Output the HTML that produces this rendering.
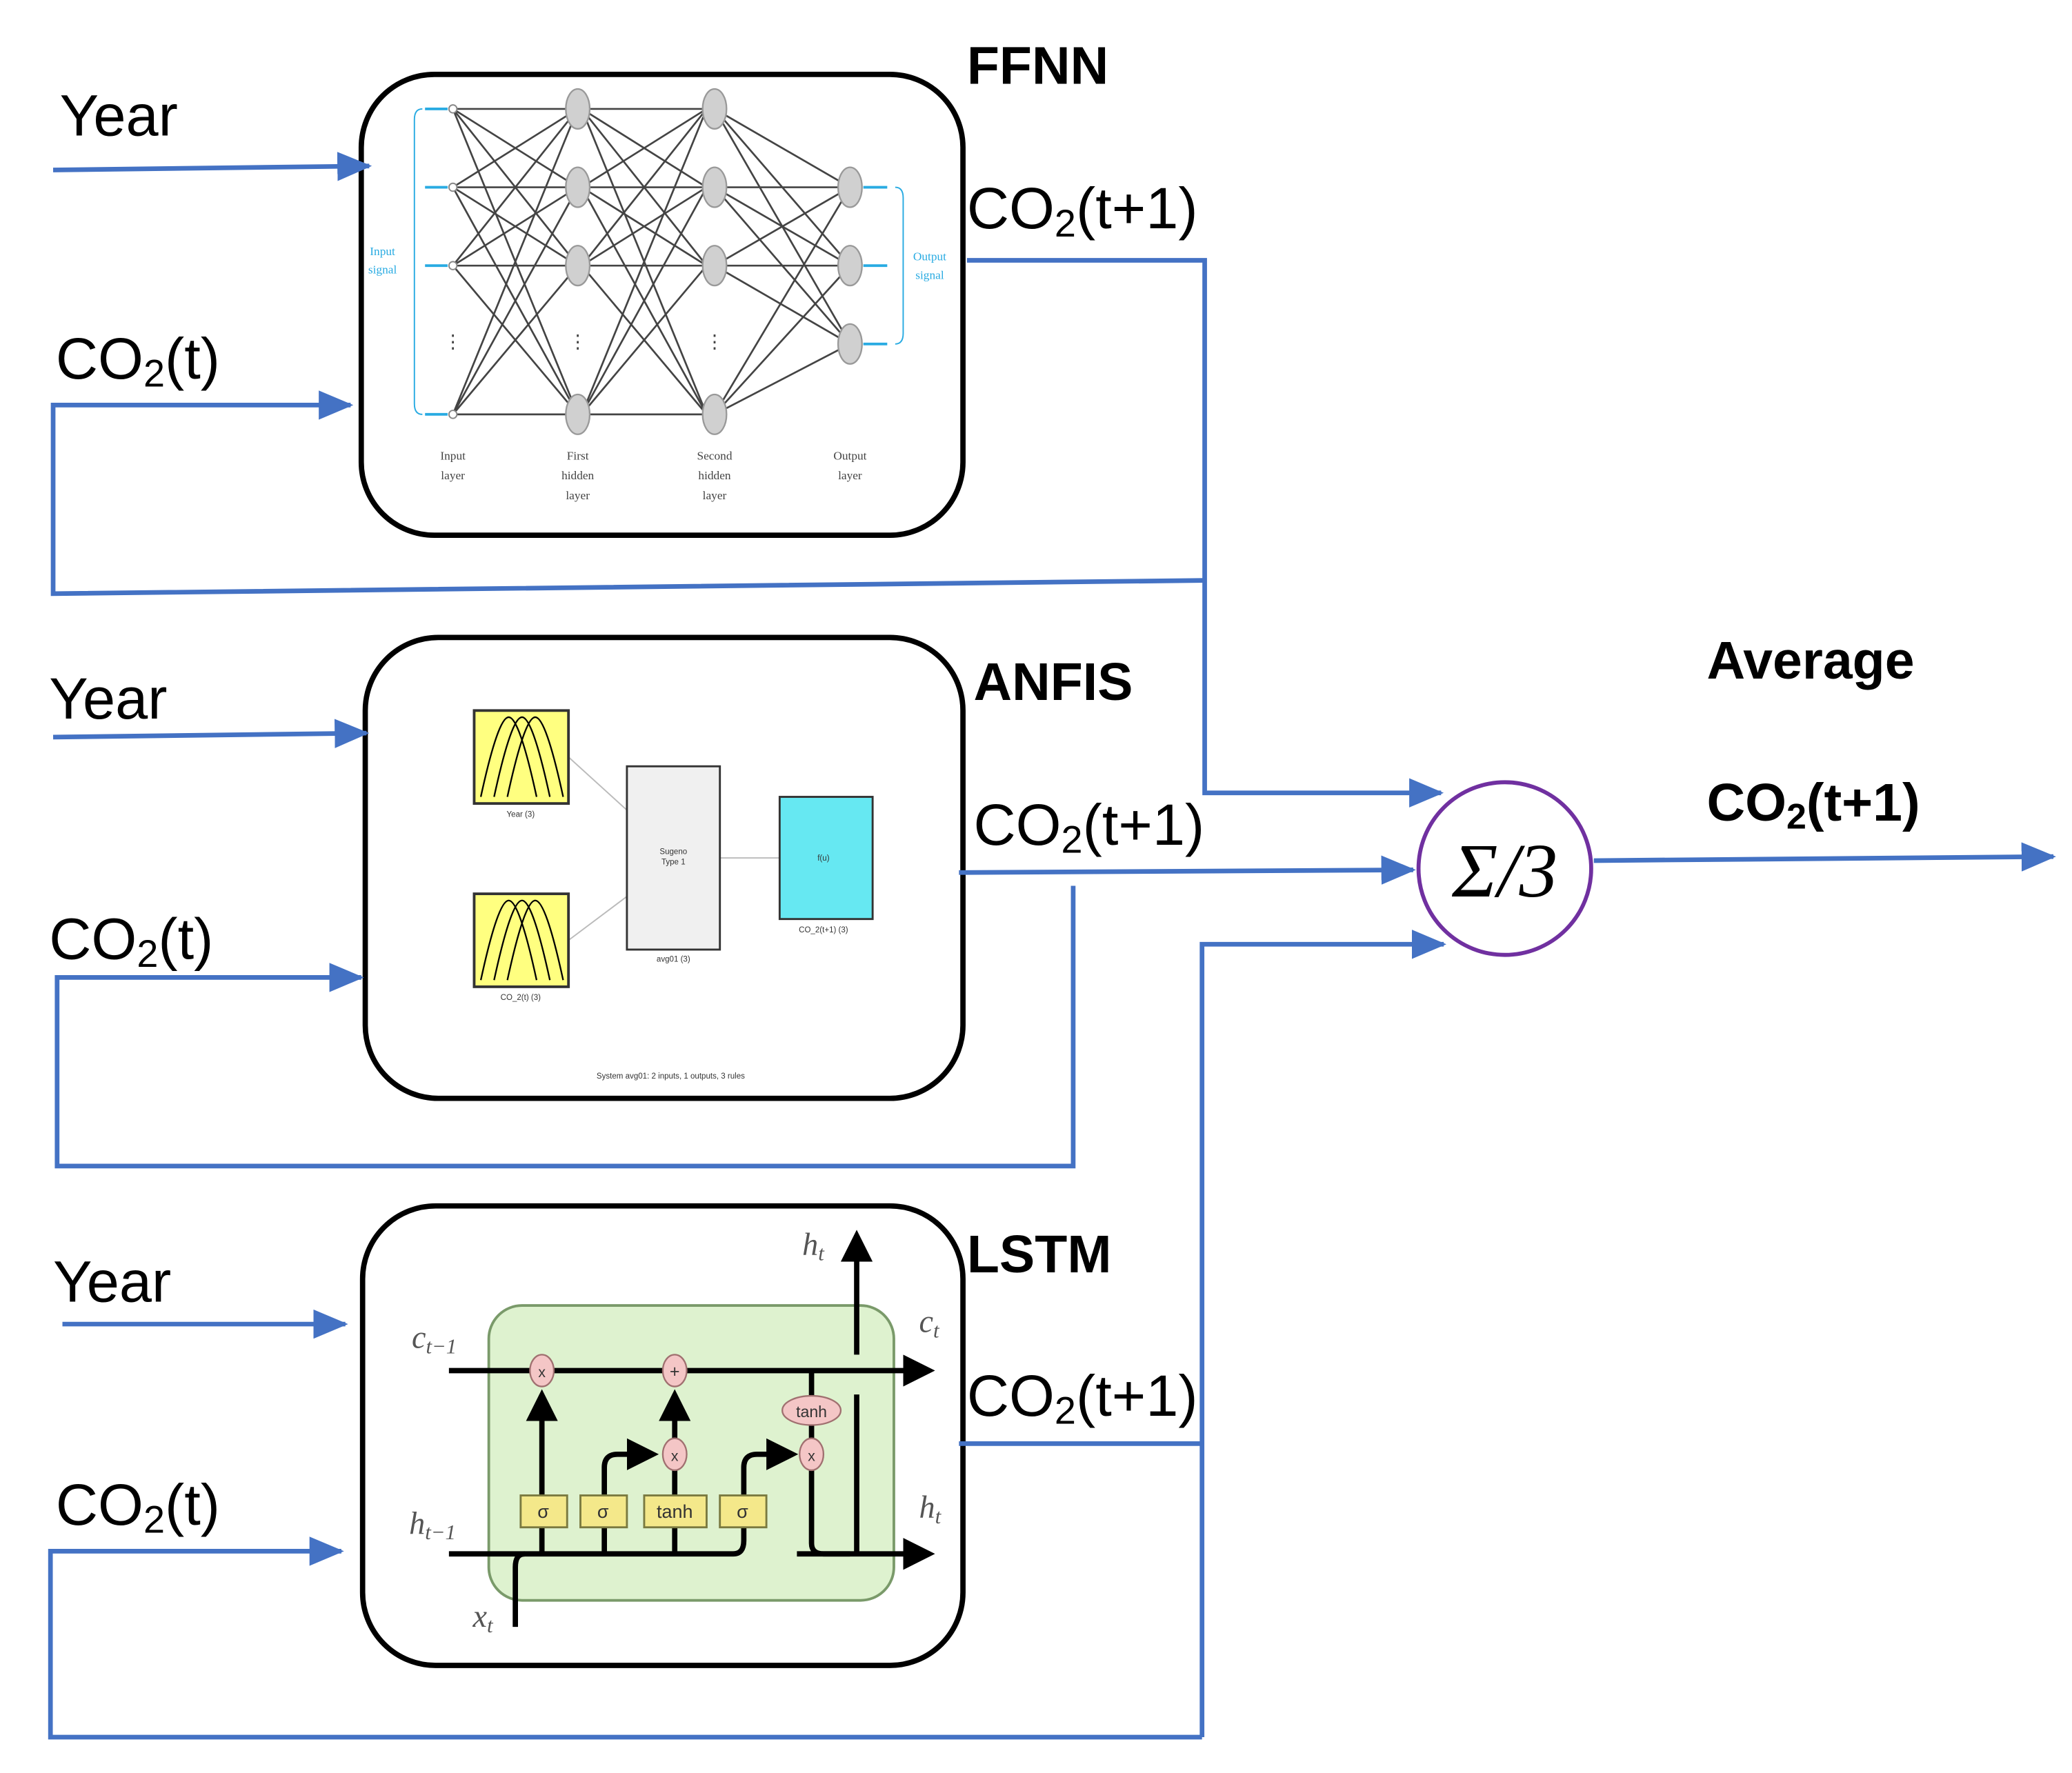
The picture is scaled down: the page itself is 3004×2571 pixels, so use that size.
<!DOCTYPE html>
<html><head><meta charset="utf-8"><style>html,body{margin:0;padding:0;background:#fff}svg{display:block}</style></head>
<body>
<svg width="3004" height="2571" viewBox="0 0 1560 1335" preserveAspectRatio="none" xmlns="http://www.w3.org/2000/svg" font-family="'Liberation Sans', sans-serif">
<defs>
<marker id="ab" markerWidth="26" markerHeight="22" refX="24" refY="11" orient="auto" markerUnits="userSpaceOnUse" viewBox="0 0 26 22"><path d="M0,0 L26,11 L0,22 z" fill="#4472c4"/></marker>
<marker id="ak" markerWidth="6" markerHeight="6" refX="5" refY="3" orient="auto" viewBox="0 0 6 6"><path d="M0,0 L6,3 L0,6 z" fill="#000"/></marker>
</defs>
<style>
.bl{stroke:#4472c4;stroke-width:3.5;fill:none}
.lab{font-size:44px;fill:#000}
.bold{font-size:40px;font-weight:bold;fill:#000}
</style>

<rect x="272" y="56" width="453" height="347" rx="55" fill="#fff" stroke="#000" stroke-width="4"/>
<rect x="275" y="480" width="450" height="347" rx="55" fill="#fff" stroke="#000" stroke-width="4"/>
<rect x="273" y="908" width="452" height="346" rx="55" fill="#fff" stroke="#000" stroke-width="4"/>

<!-- FFNN inner -->
<g stroke="#444" stroke-width="1.4">
<g id="c1">
<line x1="341" y1="82" x2="435" y2="82"/><line x1="341" y1="82" x2="435" y2="141"/><line x1="341" y1="82" x2="435" y2="200"/><line x1="341" y1="82" x2="435" y2="312"/>
<line x1="341" y1="141" x2="435" y2="82"/><line x1="341" y1="141" x2="435" y2="141"/><line x1="341" y1="141" x2="435" y2="200"/><line x1="341" y1="141" x2="435" y2="312"/>
<line x1="341" y1="200" x2="435" y2="82"/><line x1="341" y1="200" x2="435" y2="141"/><line x1="341" y1="200" x2="435" y2="200"/><line x1="341" y1="200" x2="435" y2="312"/>
<line x1="341" y1="312" x2="435" y2="82"/><line x1="341" y1="312" x2="435" y2="141"/><line x1="341" y1="312" x2="435" y2="200"/><line x1="341" y1="312" x2="435" y2="312"/>
</g>
<use href="#c1" transform="translate(97,0)"/>
<line x1="538" y1="82" x2="640" y2="141"/><line x1="538" y1="82" x2="640" y2="200"/><line x1="538" y1="82" x2="640" y2="259"/>
<line x1="538" y1="141" x2="640" y2="141"/><line x1="538" y1="141" x2="640" y2="200"/><line x1="538" y1="141" x2="640" y2="259"/>
<line x1="538" y1="200" x2="640" y2="141"/><line x1="538" y1="200" x2="640" y2="200"/><line x1="538" y1="200" x2="640" y2="259"/>
<line x1="538" y1="312" x2="640" y2="141"/><line x1="538" y1="312" x2="640" y2="200"/><line x1="538" y1="312" x2="640" y2="259"/>
</g>
<g fill="#d0d0d0" stroke="#999" stroke-width="1.2">
<ellipse cx="435" cy="82" rx="9" ry="15"/><ellipse cx="435" cy="141" rx="9" ry="15"/><ellipse cx="435" cy="200" rx="9" ry="15"/><ellipse cx="435" cy="312" rx="9" ry="15"/>
<ellipse cx="538" cy="82" rx="9" ry="15"/><ellipse cx="538" cy="141" rx="9" ry="15"/><ellipse cx="538" cy="200" rx="9" ry="15"/><ellipse cx="538" cy="312" rx="9" ry="15"/>
<ellipse cx="640" cy="141" rx="9" ry="15"/><ellipse cx="640" cy="200" rx="9" ry="15"/><ellipse cx="640" cy="259" rx="9" ry="15"/>
</g>
<g fill="#fff" stroke="#888"><circle cx="341" cy="82" r="3"/><circle cx="341" cy="141" r="3"/><circle cx="341" cy="200" r="3"/><circle cx="341" cy="312" r="3"/></g>
<g stroke="#29abe2" stroke-width="2">
<line x1="320" y1="82" x2="337" y2="82"/><line x1="320" y1="141" x2="337" y2="141"/><line x1="320" y1="200" x2="337" y2="200"/><line x1="320" y1="312" x2="337" y2="312"/>
<line x1="650" y1="141" x2="668" y2="141"/><line x1="650" y1="200" x2="668" y2="200"/><line x1="650" y1="259" x2="668" y2="259"/>
<path d="M318,82 Q312,82 312,90 L312,304 Q312,312 318,312" fill="none" stroke-width="1"/>
<path d="M674,141 Q680,141 680,149 L680,251 Q680,259 674,259" fill="none" stroke-width="1"/>
</g>
<g fill="#444" font-size="9" text-anchor="middle" font-family="'Liberation Serif',serif">
<text x="341" y="262" font-size="14">⋮</text><text x="435" y="262" font-size="14">⋮</text><text x="538" y="262" font-size="14">⋮</text>
<text x="341" y="346">Input</text><text x="341" y="361">layer</text>
<text x="435" y="346">First</text><text x="435" y="361">hidden</text><text x="435" y="376">layer</text>
<text x="538" y="346">Second</text><text x="538" y="361">hidden</text><text x="538" y="376">layer</text>
<text x="640" y="346">Output</text><text x="640" y="361">layer</text>
<text x="288" y="192" fill="#29abe2">Input</text><text x="288" y="206" fill="#29abe2">signal</text>
<text x="700" y="196" fill="#29abe2">Output</text><text x="700" y="210" fill="#29abe2">signal</text>
</g>

<!-- ANFIS inner -->
<g stroke="#bbb" stroke-width="1"><line x1="428" y1="570" x2="472" y2="610"/><line x1="428" y1="708" x2="472" y2="675"/><line x1="542" y1="646" x2="587" y2="646"/></g>
<rect x="357" y="535" width="71" height="70" fill="#ffff80" stroke="#333" stroke-width="2"/>
<rect x="357" y="673" width="71" height="70" fill="#ffff80" stroke="#333" stroke-width="2"/>
<g fill="none" stroke="#000" stroke-width="1.2">
<path d="M362,600 Q375,540 383,540 Q391,540 404,600"/><path d="M372,600 Q385,540 393,540 Q401,540 414,600"/><path d="M382,600 Q395,540 403,540 Q411,540 424,600"/>
<path d="M362,738 Q375,678 383,678 Q391,678 404,738"/><path d="M372,738 Q385,678 393,678 Q401,678 414,738"/><path d="M382,738 Q395,678 403,678 Q411,678 424,738"/>
</g>
<rect x="472" y="577" width="70" height="138" fill="#f0f0f0" stroke="#333" stroke-width="1.5"/>
<rect x="587" y="600" width="70" height="92" fill="#66e8f2" stroke="#333" stroke-width="1.5"/>
<g font-size="6" fill="#333" text-anchor="middle">
<text x="392" y="615">Year (3)</text><text x="392" y="753">CO_2(t) (3)</text>
<text x="507" y="643">Sugeno</text><text x="507" y="651">Type 1</text><text x="507" y="724">avg01 (3)</text>
<text x="620" y="648">f(u)</text><text x="620" y="702">CO_2(t+1) (3)</text>
<text x="505" y="812">System avg01: 2 inputs, 1 outputs, 3 rules</text>
</g>

<!-- LSTM inner -->
<rect x="368" y="983" width="305" height="222" rx="25" fill="#def2cf" stroke="#7a9a6a" stroke-width="2"/>
<g stroke="#000" stroke-width="4" fill="none">
<line x1="338" y1="1032" x2="700" y2="1032" marker-end="url(#ak)"/>
<path d="M338,1170 L552,1170 Q560,1170 560,1160 L560,1150"/>
<line x1="600" y1="1170" x2="700" y2="1170" marker-end="url(#ak)"/>
<path d="M611,1103 L611,1162 Q611,1170 620,1170 L640,1170"/>
<line x1="645" y1="1170" x2="645" y2="1050"/><line x1="645" y1="1020" x2="645" y2="930" marker-end="url(#ak)"/>
<path d="M388,1225 L388,1180 Q388,1170 395,1170"/>
<line x1="408" y1="1126" x2="408" y2="1050" marker-end="url(#ak)"/>
<line x1="408" y1="1150" x2="408" y2="1170"/>
<path d="M455,1150 L455,1170 M455,1126 L455,1105 Q455,1095 465,1095 L490,1095" /><line x1="480" y1="1095" x2="492" y2="1095" marker-end="url(#ak)"/>
<line x1="508" y1="1126" x2="508" y2="1103"/><line x1="508" y1="1150" x2="508" y2="1170"/>
<line x1="508" y1="1087" x2="508" y2="1050" marker-end="url(#ak)"/>
<path d="M560,1126 L560,1105 Q560,1095 570,1095 L590,1095"/><line x1="585" y1="1095" x2="597" y2="1095" marker-end="url(#ak)"/>
<line x1="611" y1="1032" x2="611" y2="1087"/>
</g>
<g fill="#f4c6c6" stroke="#a07070" stroke-width="1.2">
<ellipse cx="408" cy="1032" rx="9" ry="12"/><ellipse cx="508" cy="1032" rx="9" ry="12"/><ellipse cx="508" cy="1095" rx="9" ry="12"/>
<ellipse cx="611" cy="1062" rx="22" ry="11"/><ellipse cx="611" cy="1095" rx="9" ry="12"/>
</g>
<g fill="#f4e88a" stroke="#7a7a40" stroke-width="1.5">
<rect x="392" y="1126" width="35" height="24"/><rect x="437" y="1126" width="35" height="24"/><rect x="485" y="1126" width="47" height="24"/><rect x="542" y="1126" width="35" height="24"/>
</g>
<g font-size="14" fill="#333" text-anchor="middle">
<text x="409" y="1143">σ</text><text x="454" y="1143">σ</text><text x="508" y="1143">tanh</text><text x="559" y="1143">σ</text>
<text x="611" y="1067" font-size="12">tanh</text>
<text x="408" y="1037" font-size="11">x</text><text x="508" y="1037" font-size="13">+</text><text x="508" y="1100" font-size="11">x</text><text x="611" y="1100" font-size="11">x</text>
</g>
<g font-family="'Liberation Serif',serif" font-style="italic" fill="#555" font-size="24">
<text x="310" y="1015">c<tspan font-size="16" dy="4">t−1</tspan></text>
<text x="308" y="1155">h<tspan font-size="16" dy="4">t−1</tspan></text>
<text x="356" y="1225">x<tspan font-size="16" dy="4">t</tspan></text>
<text x="604" y="945">h<tspan font-size="16" dy="4">t</tspan></text>
<text x="692" y="1003">c<tspan font-size="16" dy="4">t</tspan></text>
<text x="692" y="1143">h<tspan font-size="16" dy="4">t</tspan></text>
</g>

<!-- Blue connectors -->
<line class="bl" x1="40" y1="128" x2="278" y2="125" marker-end="url(#ab)"/>
<polyline class="bl" points="907,437 40,447 40,305 264,305" marker-end="url(#ab)"/>
<polyline class="bl" points="728,196 907,196 907,597 1085,597" marker-end="url(#ab)"/>
<line class="bl" x1="40" y1="555" x2="276" y2="552" marker-end="url(#ab)"/>
<polyline class="bl" points="808,667 808,878 43,878 43,736 272,736" marker-end="url(#ab)"/>
<line class="bl" x1="722" y1="657" x2="1064" y2="655" marker-end="url(#ab)"/>
<line class="bl" x1="47" y1="997" x2="260" y2="997" marker-end="url(#ab)"/>
<polyline class="bl" points="905,1308 38,1308 38,1168 257,1168" marker-end="url(#ab)"/>
<polyline class="bl" points="722,1087 905,1087"/>
<polyline class="bl" points="905,1308 905,711 1087,711" marker-end="url(#ab)"/>
<line class="bl" x1="1200" y1="648" x2="1546" y2="645" marker-end="url(#ab)"/>

<circle cx="1133" cy="654" r="65" fill="#fff" stroke="#7030a0" stroke-width="3"/>
<text x="1133" y="675" text-anchor="middle" font-family="'Liberation Serif',serif" font-style="italic" font-size="58">Σ/3</text>

<text class="lab" x="45" y="102">Year</text>
<text class="lab" x="42" y="285">CO<tspan font-size="29" dy="6">2</tspan><tspan dy="-6">(t)</tspan></text>
<text class="bold" x="728" y="63">FFNN</text>
<text class="lab" x="728" y="172">CO<tspan font-size="29" dy="6">2</tspan><tspan dy="-6">(t+1)</tspan></text>
<text class="lab" x="37" y="541">Year</text>
<text class="lab" x="37" y="722">CO<tspan font-size="29" dy="6">2</tspan><tspan dy="-6">(t)</tspan></text>
<text class="bold" x="733" y="527">ANFIS</text>
<text class="lab" x="733" y="636">CO<tspan font-size="29" dy="6">2</tspan><tspan dy="-6">(t+1)</tspan></text>
<text class="lab" x="40" y="980">Year</text>
<text class="lab" x="42" y="1148">CO<tspan font-size="29" dy="6">2</tspan><tspan dy="-6">(t)</tspan></text>
<text class="bold" x="728" y="958">LSTM</text>
<text class="lab" x="728" y="1066">CO<tspan font-size="29" dy="6">2</tspan><tspan dy="-6">(t+1)</tspan></text>
<text class="bold" x="1285" y="511">Average</text>
<text class="bold" x="1285" y="618">CO<tspan font-size="27" dy="6">2</tspan><tspan dy="-6">(t+1)</tspan></text>
</svg>
</body></html>
